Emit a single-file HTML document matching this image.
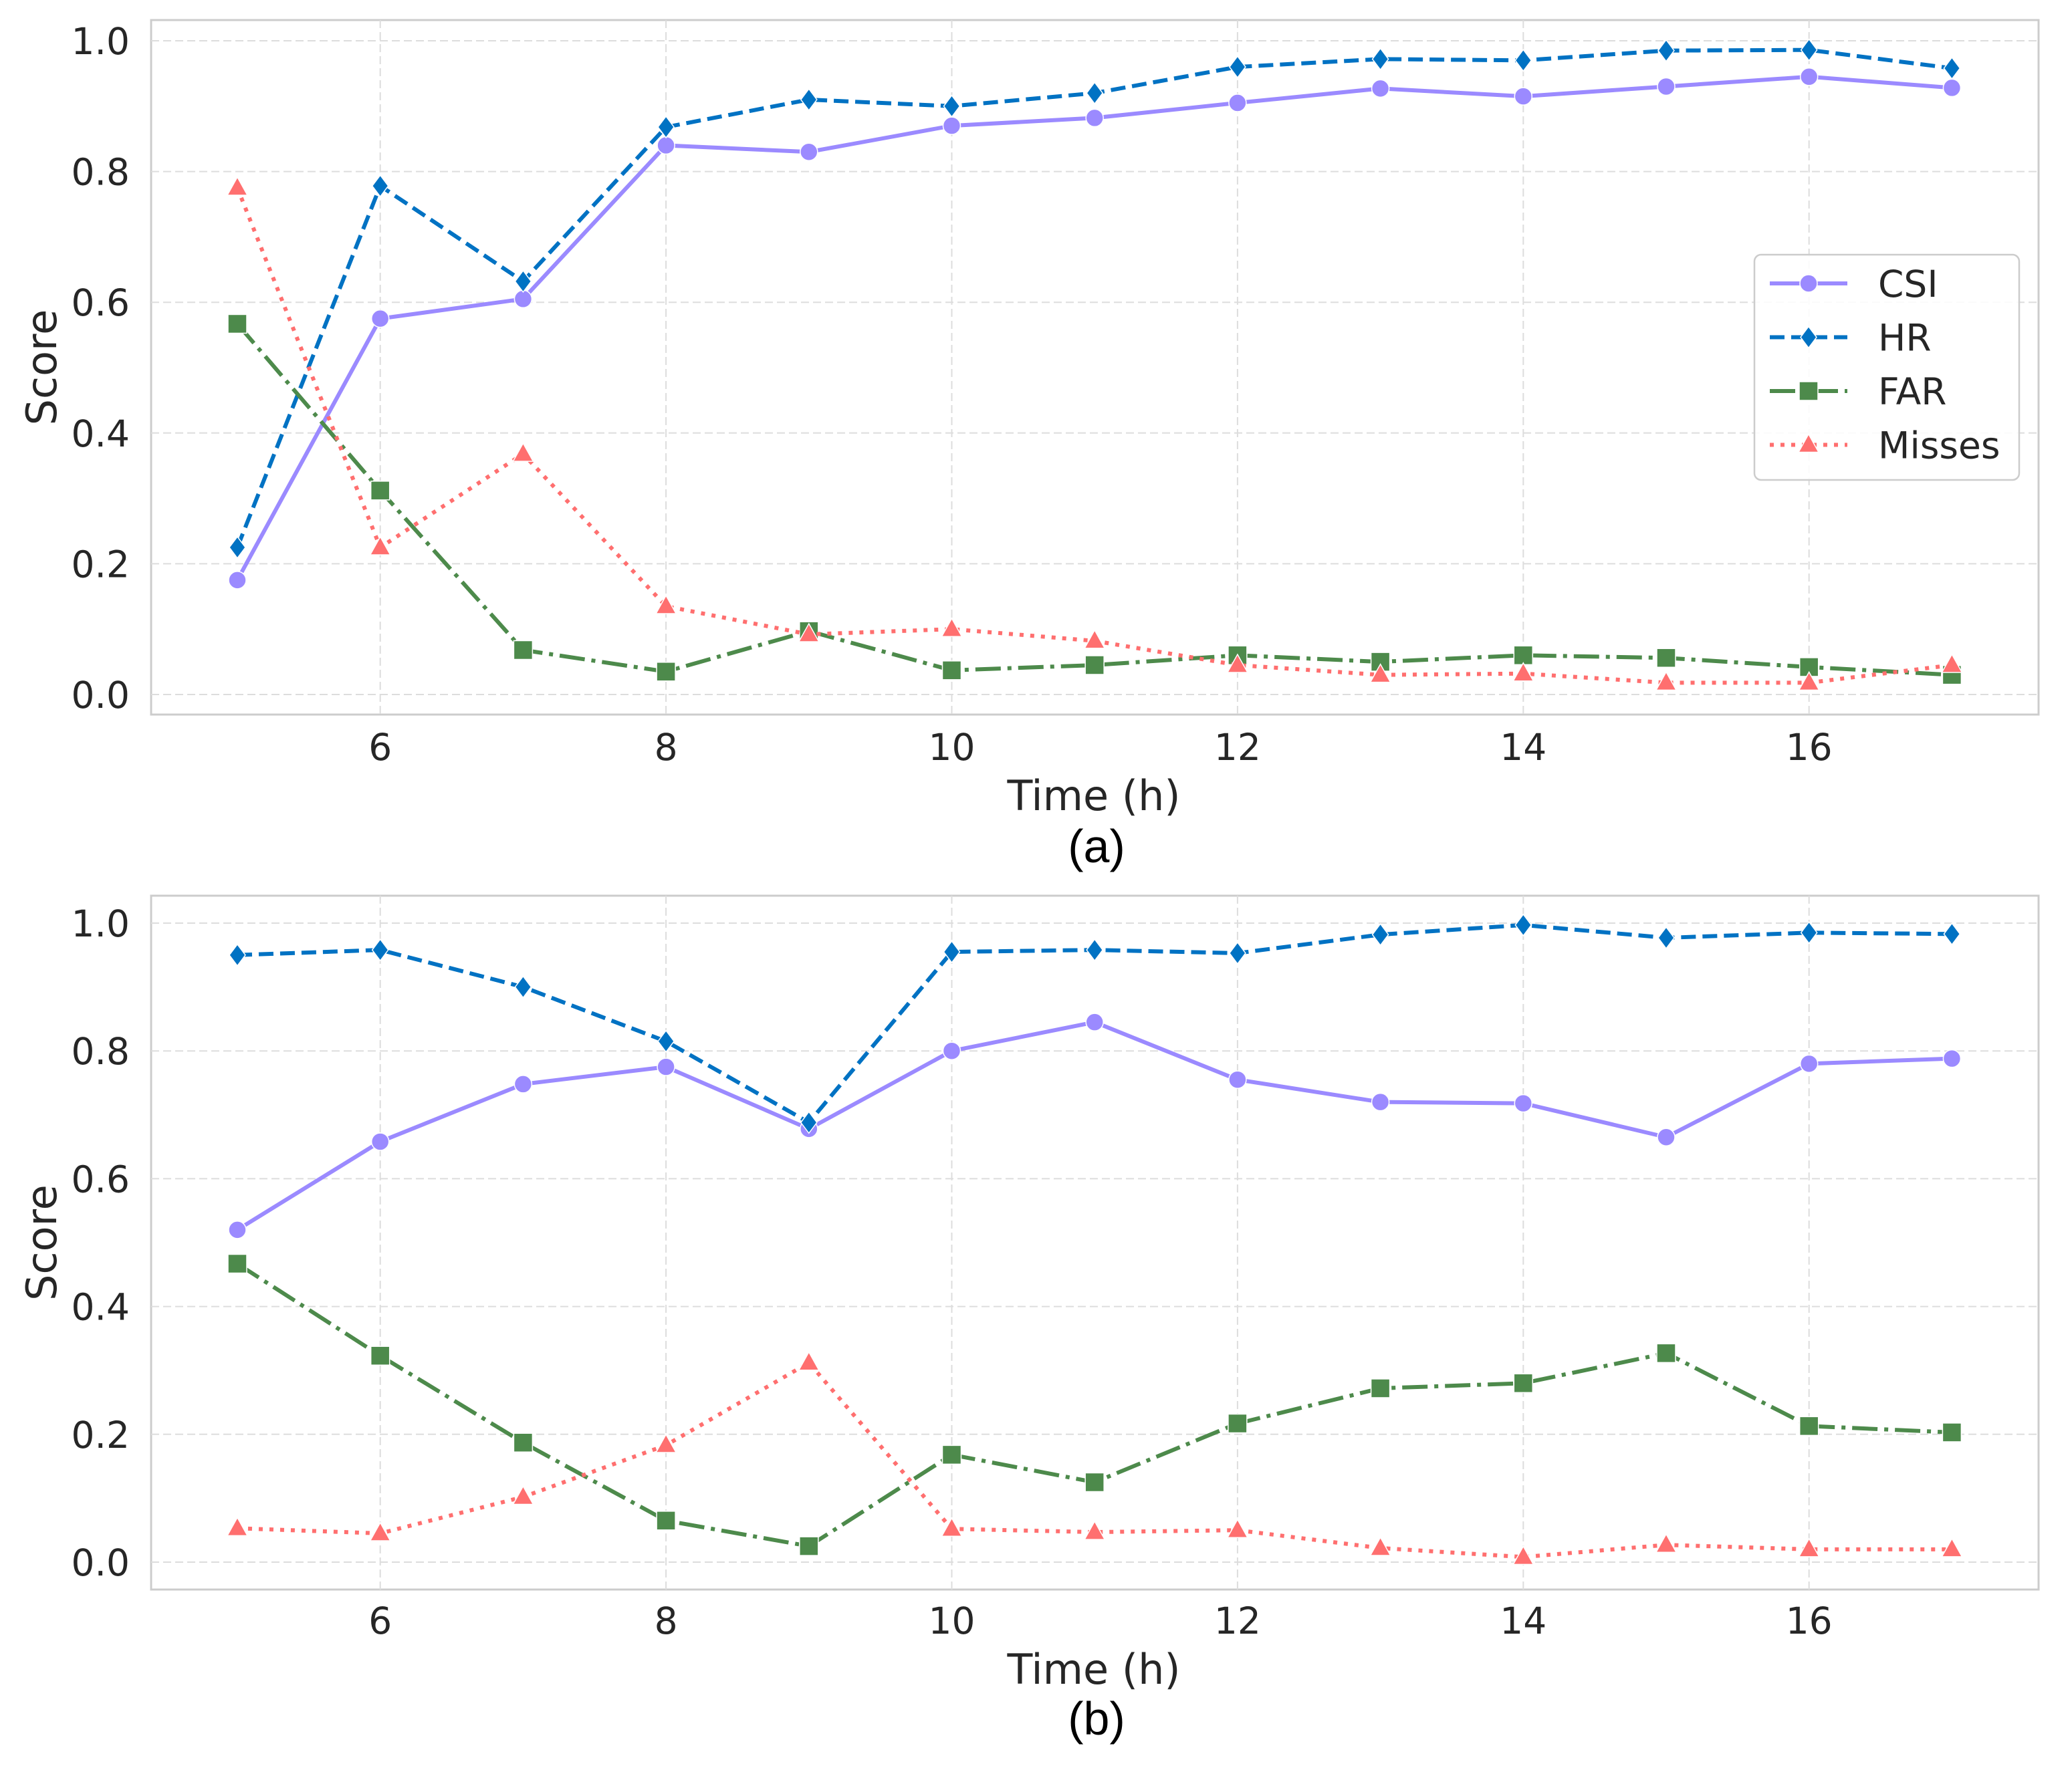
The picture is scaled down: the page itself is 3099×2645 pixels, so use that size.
<!DOCTYPE html>
<html><head><meta charset="utf-8"><style>
html,body{margin:0;padding:0;background:#fff;}
svg{display:block;}
text{font-family:"DejaVu Sans","Liberation Sans",sans-serif;fill:#262626;}
</style></head><body>
<svg id="fig" width="3099" height="2645" viewBox="0 0 3099 2645" xmlns="http://www.w3.org/2000/svg"></svg>
<script>
const hours = [5,6,7,8,9,10,11,12,13,14,15,16,17];
const xTicks = [6,8,10,12,14,16];
const yTicks = [0.0,0.2,0.4,0.6,0.8,1.0];
const yTickLabels = ["0.0","0.2","0.4","0.6","0.8","1.0"];
const seriesNames = ["CSI","HR","FAR","Misses"];
const csiA = [0.175,0.575,0.605,0.84,0.83,0.87,0.882,0.905,0.927,0.915,0.93,0.945,0.928];
const hrA = [0.225,0.778,0.632,0.868,0.91,0.9,0.92,0.96,0.972,0.97,0.985,0.986,0.958];
const farA = [0.567,0.312,0.068,0.035,0.097,0.037,0.045,0.06,0.05,0.06,0.056,0.042,0.03];
const missA = [0.775,0.225,0.368,0.135,0.092,0.1,0.082,0.045,0.03,0.032,0.018,0.018,0.045];
const csiB = [0.52,0.658,0.748,0.775,0.678,0.8,0.845,0.755,0.72,0.718,0.665,0.78,0.788];
const hrB = [0.95,0.958,0.9,0.815,0.688,0.955,0.958,0.953,0.982,0.997,0.977,0.985,0.983];
const farB = [0.467,0.323,0.187,0.065,0.025,0.168,0.125,0.217,0.272,0.28,0.327,0.213,0.203];
const missB = [0.053,0.045,0.102,0.183,0.312,0.052,0.047,0.05,0.022,0.008,0.027,0.02,0.02];

const NS="http://www.w3.org/2000/svg";
const svg=document.getElementById('fig');
function mk(tag,attrs,parent){const e=document.createElementNS(NS,tag);for(const k in attrs)e.setAttribute(k,attrs[k]);(parent||svg).appendChild(e);return e;}
const styles={
 CSI:{color:"#9b8aff",dash:"",marker:"circle"},
 HR:{color:"#0072c3",dash:"22 10",marker:"diamond"},
 FAR:{color:"#4d8a4b",dash:"38 10 6 10",marker:"square"},
 Misses:{color:"#ff6f6f",dash:"6 10",marker:"triangle"}
};
function marker(g,type,x,y,color){
  let e;
  if(type==="circle") e=mk('circle',{cx:x,cy:y,r:13,fill:color,stroke:"#fff","stroke-width":1.5},g);
  else if(type==="square") e=mk('rect',{x:x-14,y:y-14,width:28,height:28,fill:color,stroke:"#fff","stroke-width":1.5},g);
  else if(type==="diamond") e=mk('polygon',{points:`${x},${y-16} ${x+12},${y} ${x},${y+16} ${x-12},${y}`,fill:color,stroke:"#fff","stroke-width":1.5},g);
  else e=mk('polygon',{points:`${x},${y-16} ${x+15},${y+11} ${x-15},${y+11}`,fill:color,stroke:"#fff","stroke-width":1.5},g);
  return e;
}
function panel(id,T,B,y1,y0,tickY,titleY,capY,data,label,showLegend){
  const L=226,R=3049;
  const xs=v=>355+(v-5)*213.7;
  const ys=v=>y0-(y0-y1)*v;
  const g=mk('g',{});
  
  
  const frame=mk('rect',{x:L,y:T,width:R-L,height:B-T,fill:"#fff",stroke:"#cccccc","stroke-width":3},g);
  
  
  yTicks.forEach((t,i)=>{
    const gl=mk('line',{x1:L,x2:R,y1:ys(t),y2:ys(t),stroke:"#dddddd","stroke-width":2,"stroke-dasharray":"12 6"},g);
    
    
    const tx=mk('text',{x:194,y:ys(t)+20,"text-anchor":"end","font-size":55},g);
    tx.textContent=yTickLabels[i];
    
    
  });
  xTicks.forEach(t=>{
    const gl=mk('line',{x1:xs(t),x2:xs(t),y1:T,y2:B,stroke:"#dddddd","stroke-width":2,"stroke-dasharray":"12 6"},g);
    
    
    const tx=mk('text',{x:xs(t),y:tickY,"text-anchor":"middle","font-size":55},g);
    tx.textContent=String(t);
    
    
  });
  const xl=mk('text',{x:1636,y:titleY,"text-anchor":"middle","font-size":62},g);
  xl.textContent="Time (h)";
  
  
  const yl=mk('text',{x:0,y:0,"text-anchor":"middle","font-size":62,transform:`translate(84,${(T+B)/2}) rotate(-90)`},g);
  yl.textContent="Score";
  
  
  const cap=mk('text',{x:1640,y:capY,"text-anchor":"middle","font-size":70,style:'font-family:"Liberation Sans",sans-serif;fill:#000'},g);
  cap.textContent=label;
  
  
  seriesNames.forEach((n,si)=>{
    const st=styles[n], vals=data[si];
    const sg=mk('g',{},g);
    
    
    const pts=vals.map((v,i)=>xs(hours[i])+","+ys(v)).join(" ");
    const pl=mk('polyline',{points:pts,fill:"none",stroke:st.color,"stroke-width":6,"stroke-dasharray":st.dash},sg);
    
    
    vals.forEach((v,i)=>{
      const m=marker(sg,st.marker,xs(hours[i]),ys(v),st.color);
      
      
    });
  });
  if(showLegend){
    const lg=mk('g',{},g);
    
    
    mk('rect',{x:2624,y:381,width:396,height:337,rx:10,fill:"#fff","fill-opacity":0.85,stroke:"#cccccc","stroke-width":2.5},lg);
    seriesNames.forEach((n,i)=>{
      const st=styles[n], yy=424+i*80.5;
      const e=mk('g',{},lg);
      
      
      mk('line',{x1:2647,x2:2763,y1:yy,y2:yy,stroke:st.color,"stroke-width":6,"stroke-dasharray":st.dash},e);
      marker(e,st.marker,2705,yy,st.color);
      const t=mk('text',{x:2809,y:yy+20,"font-size":55},e);
      t.textContent=n;
    });
  }
}
panel('a',30,1069,61,1039,1137,1212,1290,[csiA,hrA,farA,missA],"(a)",true);
panel('b',1340,2378,1381,2337,2444,2519,2595,[csiB,hrB,farB,missB],"(b)",false);
</script>
</body></html>
